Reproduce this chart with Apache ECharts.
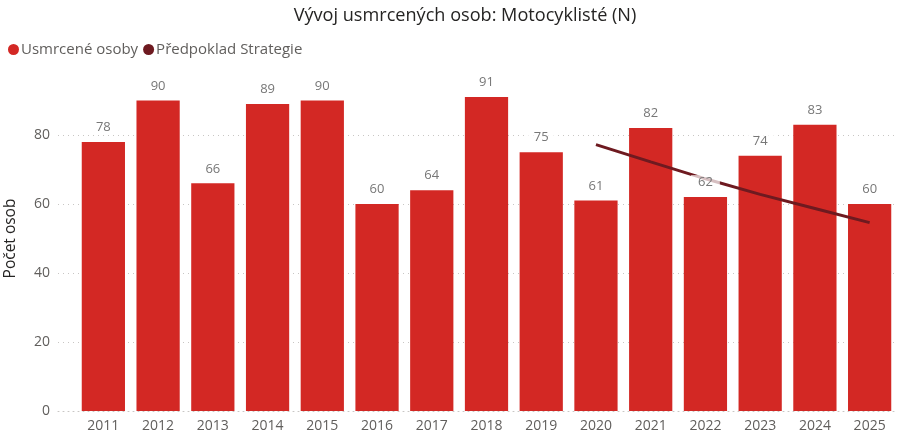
<!DOCTYPE html>
<html><head><meta charset="utf-8">
<script src="https://cdn.jsdelivr.net/npm/echarts@6/dist/echarts.min.js"></script>
<style>html,body{margin:0;padding:0;background:#fff}#c{width:900px;height:434px}</style>
</head><body><div id="c"></div>
<script>
const years = ['2011','2012','2013','2014','2015','2016','2017','2018','2019','2020','2021','2022','2023','2024','2025'];
const usmrcene = [78,90,66,89,90,60,64,91,75,61,82,62,74,83,60];
const predpoklad = [null,null,null,null,null,null,null,null,null,77.2,72.2,67.3,62.8,58.7,54.6];
const yTicks = [0,20,40,60,80];
const titleText = 'Vývoj usmrcených osob: Motocyklisté (N)';

const font = '"Segoe UI","Open Sans","Noto Sans",sans-serif';
// fit title font size to the reference title width (~343px)
const ctx = document.createElement('canvas').getContext('2d');
ctx.font = '100px ' + font;
const titleSize = Math.max(16, Math.min(20, 343 / ctx.measureText(titleText).width * 100));

const dotted = {color: '#C8C6C4', type: [1,4], width: 1};
const chart = echarts.init(document.getElementById('c'));
chart.setOption({
  animation: false,
  title: {text: titleText, left: 460, textAlign: 'center', top: 2,
    textStyle: {fontFamily: font, fontSize: titleSize, fontWeight: 'normal', color: '#252423'}},
  legend: {left: 3, top: 37, icon: 'circle', itemWidth: 11, itemHeight: 11, itemGap: 5,
    data: ['Usmrcené osoby','Předpoklad Strategie'],
    textStyle: {fontFamily: font, fontSize: 15, color: '#605E5C', padding: [0,0,0,-3]}},
  grid: [
    {left: 58, right: 3, top: 66, bottom: 23, containLabel: false, outerBoundsMode: 'none'},
    {left: 76, right: 3, top: 66, bottom: 23, containLabel: false, outerBoundsMode: 'none'}
  ],
  xAxis: [
    {type: 'value', gridIndex: 0, min: 0, max: 1,
      axisLine: {show: true, lineStyle: dotted}, axisTick: {show: false},
      axisLabel: {show: false}, splitLine: {show: false}},
    {type: 'category', gridIndex: 1, data: years,
      axisLine: {show: false}, axisTick: {show: false},
      axisLabel: {fontFamily: font, fontSize: 14, color: '#605E5C', margin: 8}}
  ],
  yAxis: [
    {type: 'value', gridIndex: 0, min: 0, max: 100, interval: 20,
      name: 'Počet osob', nameLocation: 'middle', nameGap: 39, nameRotate: 90,
      nameTextStyle: {fontFamily: font, fontSize: 15.5, color: '#252423'},
      axisLine: {show: false}, axisTick: {show: false},
      axisLabel: {fontFamily: font, fontSize: 14, color: '#605E5C', margin: 8,
        formatter: v => yTicks.includes(v) ? String(v) : ''},
      splitLine: {showMaxLine: false, showMinLine: false, lineStyle: dotted}},
    {type: 'value', gridIndex: 1, min: 0, max: 100, interval: 20, show: false,
      splitLine: {show: false}}
  ],
  series: [
    {name: 'Usmrcené osoby', type: 'bar', xAxisIndex: 1, yAxisIndex: 1, data: usmrcene,
      barCategoryGap: '21%', z: 1, itemStyle: {color: '#D32824'}},
    {name: 'Předpoklad Strategie', type: 'line', xAxisIndex: 1, yAxisIndex: 1, data: predpoklad,
      z: 2, symbol: 'none', lineStyle: {color: '#6E1A20', width: 3}, itemStyle: {color: '#6E1A20'}},
    {name: 'labels', type: 'bar', xAxisIndex: 1, yAxisIndex: 1, data: usmrcene,
      barGap: '-100%', barCategoryGap: '21%', z: 3,
      itemStyle: {color: 'rgba(0,0,0,0)'}, silent: true,
      label: {show: true, position: 'top', distance: 7, fontFamily: font, fontSize: 13, color: '#777777',
        backgroundColor: 'rgba(255,255,255,0.72)', padding: [1,7]}}
  ]
});
</script></body></html>
